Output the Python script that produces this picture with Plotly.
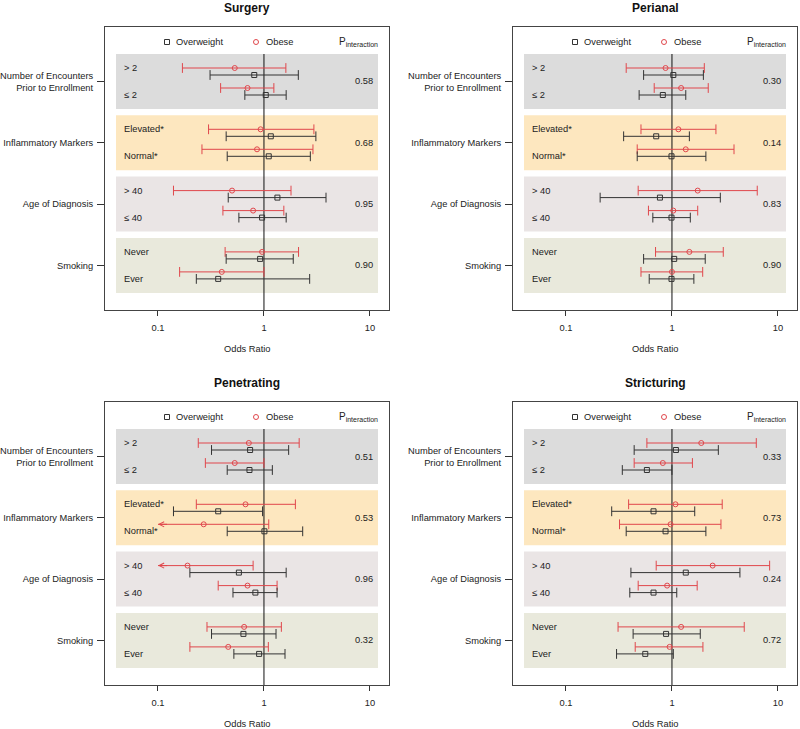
"""Forest plots of odds ratios by BMI class, one panel per outcome."""

import math

import plotly.graph_objects as go

OUTCOMES = ["Surgery", "Perianal", "Penetrating", "Stricturing"]
GROUPS = ["Number of Encounters<br>Prior to Enrollment", "Inflammatory Markers",
          "Age of Diagnosis", "Smoking"]
LEVELS = [["> 2", "≤ 2"], ["Elevated*", "Normal*"], ["> 40", "≤ 40"], ["Never", "Ever"]]
SERIES = ["Overweight", "Obese"]

# one value per level, in order: >2, <=2, Elevated, Normal, >40, <=40, Never, Ever
surgery_obese_or = [0.53, 0.70, 0.93, 0.86, 0.50, 0.79, 0.96, 0.40]
surgery_obese_lo = [0.17, 0.39, 0.30, 0.26, 0.14, 0.41, 0.43, 0.16]
surgery_obese_hi = [1.61, 1.24, 2.96, 2.90, 1.80, 1.54, 2.12, 1.00]
surgery_ow_or = [0.81, 1.04, 1.16, 1.11, 1.34, 0.96, 0.92, 0.37]
surgery_ow_lo = [0.31, 0.66, 0.44, 0.45, 0.46, 0.58, 0.44, 0.23]
surgery_ow_hi = [2.11, 1.62, 3.09, 2.74, 3.85, 1.62, 1.89, 2.70]
surgery_p = ["0.58", "0.68", "0.95", "0.90"]

perianal_obese_or = [0.87, 1.22, 1.15, 1.35, 1.75, 1.03, 1.46, 1.00]
perianal_obese_lo = [0.37, 0.68, 0.51, 0.47, 0.48, 0.60, 0.70, 0.51]
perianal_obese_hi = [2.02, 2.20, 2.60, 3.85, 6.38, 1.75, 3.05, 1.95]
perianal_ow_or = [1.03, 0.82, 0.71, 0.99, 0.77, 0.99, 1.05, 0.99]
perianal_ow_lo = [0.54, 0.49, 0.35, 0.47, 0.21, 0.66, 0.54, 0.61]
perianal_ow_hi = [1.98, 1.35, 1.46, 2.09, 2.86, 1.49, 2.06, 1.61]
perianal_p = ["0.30", "0.14", "0.83", "0.90"]

penetrating_obese_or = [0.72, 0.53, 0.67, 0.27, 0.19, 0.70, 0.65, 0.46]
penetrating_obese_lo = [0.24, 0.28, 0.23, 0.06, 0.05, 0.37, 0.29, 0.20]
penetrating_obese_hi = [2.15, 1.00, 1.98, 1.11, 0.79, 1.33, 1.46, 1.10]
penetrating_ow_or = [0.74, 0.73, 0.37, 1.01, 0.58, 0.83, 0.64, 0.90]
penetrating_ow_lo = [0.32, 0.45, 0.14, 0.45, 0.20, 0.51, 0.32, 0.52]
penetrating_ow_hi = [1.71, 1.20, 0.97, 2.32, 1.62, 1.33, 1.30, 1.58]
penetrating_p = ["0.51", "0.53", "0.96", "0.32"]

stricturing_obese_or = [1.89, 0.82, 1.08, 0.97, 2.42, 0.90, 1.22, 0.95]
stricturing_obese_lo = [0.58, 0.44, 0.39, 0.32, 0.71, 0.48, 0.31, 0.45]
stricturing_obese_hi = [6.25, 1.56, 2.98, 2.90, 8.35, 1.73, 4.81, 1.96]
stricturing_ow_or = [1.09, 0.58, 0.67, 0.87, 1.35, 0.67, 0.88, 0.56]
stricturing_ow_lo = [0.44, 0.34, 0.27, 0.37, 0.41, 0.40, 0.43, 0.30]
stricturing_ow_hi = [2.74, 1.00, 1.64, 2.09, 4.38, 1.11, 1.85, 1.03]
stricturing_p = ["0.33", "0.73", "0.24", "0.72"]

PANELS = [
    (surgery_obese_or, surgery_obese_lo, surgery_obese_hi,
     surgery_ow_or, surgery_ow_lo, surgery_ow_hi, surgery_p),
    (perianal_obese_or, perianal_obese_lo, perianal_obese_hi,
     perianal_ow_or, perianal_ow_lo, perianal_ow_hi, perianal_p),
    (penetrating_obese_or, penetrating_obese_lo, penetrating_obese_hi,
     penetrating_ow_or, penetrating_ow_lo, penetrating_ow_hi, penetrating_p),
    (stricturing_obese_or, stricturing_obese_lo, stricturing_obese_hi,
     stricturing_ow_or, stricturing_ow_lo, stricturing_ow_hi, stricturing_p),
]

FONT = "Liberation Sans, Arial, sans-serif"
TEXT = "#222222"
RED = "#E0474C"
DARK = "#333333"
BANDS = ["#DCDCDC", "#FDE7BF", "#EAE5E5", "#E9E9DC"]
FS = 9.3

W, H = 800, 729
X_RANGE = [-1.5, 1.18]          # log10 odds ratio
AXIS_MIN = 0.1                   # CIs below this are cut off with an arrow
Y_SPAN = 283                     # panel height in its own units (≈ px)
DOMAINS_X = [(105, 389), (513, 797)]
DOMAINS_Y = [(27, 310), (402, 685)]
GROUP_TOP = 54.5
GROUP_STEP = 61.3
HALF_BAND = 27.5
ROW_OFF = [-13.5, -6.5, 6.5, 13.5]   # obese/ow for level 0, obese/ow for level 1
LEGEND_Y = 15


def frac_to_x(frac):
    return 10 ** (X_RANGE[0] + frac * (X_RANGE[1] - X_RANGE[0]))


def add_series(fig, xr, yr, est, lo, hi, rows, color, symbol):
    line_x, line_y, cap_x, cap_y = [], [], [], []
    for e, l, h, y in zip(est, lo, hi, rows):
        left = max(l, AXIS_MIN)
        line_x += [left, h, None]
        line_y += [y, y, None]
        cap_x.append(h)
        cap_y.append(y)
        if l < AXIS_MIN:
            fig.add_annotation(x=math.log10(AXIS_MIN), y=y, ax=math.log10(AXIS_MIN) + 0.1, ay=y,
                               xref=xr, yref=yr, axref=xr, ayref=yr, showarrow=True,
                               arrowhead=5, arrowsize=1, arrowwidth=1, arrowcolor=color,
                               standoff=0, text="")
        else:
            cap_x.append(left)
            cap_y.append(y)
    fig.add_trace(go.Scatter(x=line_x, y=line_y, mode="lines", xaxis=xr, yaxis=yr,
                             line=dict(color=color, width=1), hoverinfo="skip"))
    fig.add_trace(go.Scatter(x=cap_x, y=cap_y, mode="markers", xaxis=xr, yaxis=yr,
                             marker=dict(symbol="line-ns", size=7,
                                         line=dict(color=color, width=1)),
                             hoverinfo="skip"))
    fig.add_trace(go.Scatter(x=est, y=rows, mode="markers", xaxis=xr, yaxis=yr,
                             marker=dict(symbol=symbol, size=5, color=color,
                                         line=dict(color=color, width=1))))


fig = go.Figure()
layout = {}
centers = [GROUP_TOP + GROUP_STEP * g for g in range(len(GROUPS))]

for i, (title, data) in enumerate(zip(OUTCOMES, PANELS)):
    ob_or, ob_lo, ob_hi, ow_or, ow_lo, ow_hi, pvals = data
    n = "" if i == 0 else str(i + 1)
    xr, yr = "x" + n, "y" + n
    x0, x1 = DOMAINS_X[i % 2]
    y0, y1 = DOMAINS_Y[i // 2]
    layout["xaxis" + n] = dict(
        type="log", range=X_RANGE, domain=[x0 / W, x1 / W], anchor=yr,
        tickvals=[0.1, 1, 10], ticktext=["0.1", "1", "10"], ticks="outside", ticklen=5,
        tickcolor=DARK, showgrid=False, zeroline=False, showline=True, mirror=True,
        linecolor="#444444", linewidth=1, tickfont=dict(size=FS, color=TEXT),
        ticklabelstandoff=4,
    )
    layout["yaxis" + n] = dict(
        range=[Y_SPAN, 0], domain=[1 - y1 / H, 1 - y0 / H], anchor=xr,
        tickvals=centers, ticktext=GROUPS, ticks="outside", ticklen=7, tickcolor=DARK,
        showgrid=False, zeroline=False, showline=True, mirror=True,
        linecolor="#444444", linewidth=1, tickfont=dict(size=FS, color=TEXT),
        ticklabelstandoff=2,
    )

    for g, c in enumerate(centers):
        fig.add_shape(type="rect", xref=xr + " domain", yref=yr, x0=11 / 284, x1=273 / 284,
                      y0=c - HALF_BAND, y1=c + HALF_BAND, fillcolor=BANDS[g],
                      line=dict(width=0), layer="below")
        for k, lab in enumerate(LEVELS[g]):
            fig.add_annotation(x=17 / 284, y=c + ROW_OFF[3 * k], xref=xr + " domain", yref=yr,
                               text=lab, showarrow=False, xanchor="left",
                               font=dict(size=FS, color=TEXT))
        fig.add_annotation(x=270 / 284, y=c, xref=xr + " domain", yref=yr, text=pvals[g],
                           showarrow=False, xanchor="right", font=dict(size=FS, color=TEXT))

    # reference line at OR = 1
    fig.add_trace(go.Scatter(x=[1, 1], y=[GROUP_TOP - HALF_BAND, Y_SPAN], mode="lines",
                             xaxis=xr, yaxis=yr, line=dict(color="#111111", width=1),
                             hoverinfo="skip"))

    ob_rows = [centers[j // 2] + ROW_OFF[(j % 2) * 2] for j in range(len(ob_or))]
    ow_rows = [centers[j // 2] + ROW_OFF[(j % 2) * 2 + 1] for j in range(len(ow_or))]
    add_series(fig, xr, yr, ob_or, ob_lo, ob_hi, ob_rows, RED, "circle-open")
    add_series(fig, xr, yr, ow_or, ow_lo, ow_hi, ow_rows, DARK, "square-open")

    # in-panel legend
    fig.add_trace(go.Scatter(x=[frac_to_x(62 / 284), frac_to_x(151 / 284)],
                             y=[LEGEND_Y, LEGEND_Y], mode="markers", xaxis=xr, yaxis=yr,
                             marker=dict(symbol=["square-open", "circle-open"], size=5,
                                         color=[DARK, RED],
                                         line=dict(color=[DARK, RED], width=1))))
    for frac, lab in [(69 / 284, SERIES[0]), (159 / 284, SERIES[1])]:
        fig.add_annotation(x=frac, y=LEGEND_Y, xref=xr + " domain", yref=yr, text=lab,
                           showarrow=False, xanchor="left", font=dict(size=FS, color=TEXT))
    fig.add_annotation(x=275 / 284, y=LEGEND_Y, xref=xr + " domain", yref=yr,
                       text="P<sub>interaction</sub>", showarrow=False, xanchor="right",
                       font=dict(size=FS + 0.7, color=TEXT))

    fig.add_annotation(x=0.5, y=1 + 19 / Y_SPAN, xref=xr + " domain", yref=yr + " domain",
                       text="<b>" + title + "</b>", showarrow=False, yanchor="middle",
                       font=dict(size=12, color="#111111"))
    fig.add_annotation(x=0.5, y=-39 / Y_SPAN, xref=xr + " domain", yref=yr + " domain",
                       text="Odds Ratio", showarrow=False, yanchor="middle",
                       font=dict(size=FS, color=TEXT))

fig.update_layout(
    width=W, height=H, margin=dict(l=0, r=0, t=0, b=0), showlegend=False,
    paper_bgcolor="white", plot_bgcolor="white", font=dict(family=FONT, color=TEXT),
    **layout,
)
# the page body has a default 8px margin; drop it so the figure fills the window
fig.write_html("out.html", config={"displayModeBar": False},
               post_script="document.body.style.margin = '0';")
